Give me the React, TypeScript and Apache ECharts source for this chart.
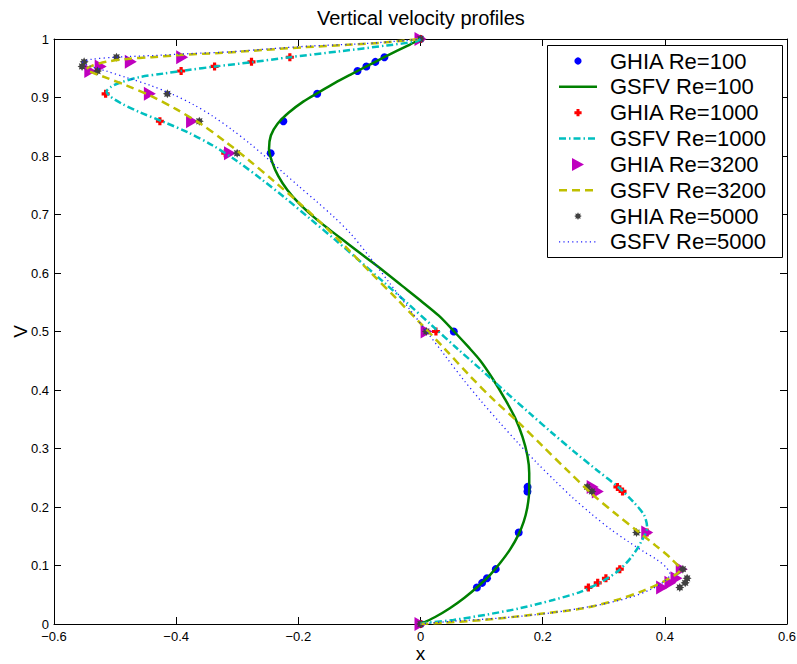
import React, { useEffect, useRef } from "react";
import * as echarts from "echarts";

// Sample positions along the vertical centreline (shared by every GHIA set)
const ghiaY = [1.0, 0.9688, 0.9609, 0.9531, 0.9453, 0.9063, 0.8594, 0.8047, 0.5, 0.2344, 0.2266, 0.1563, 0.0938, 0.0781, 0.0703, 0.0625, 0.0];

// GHIA reference velocities
const ghiaRe100 = [0.0, -0.05906, -0.07391, -0.08864, -0.10313, -0.16914, -0.22445, -0.24533, 0.05454, 0.17527, 0.17507, 0.16077, 0.12317, 0.1089, 0.10091, 0.09233, 0.0];
const ghiaRe1000 = [0.0, -0.21388, -0.27669, -0.33714, -0.39188, -0.5155, -0.42665, -0.31966, 0.02526, 0.32235, 0.33075, 0.37095, 0.32627, 0.30353, 0.29012, 0.27485, 0.0];
const ghiaRe3200 = [0.0, -0.39017, -0.47425, -0.52357, -0.54053, -0.44307, -0.37401, -0.31184, 0.00999, 0.28188, 0.2903, 0.37119, 0.42768, 0.41906, 0.40917, 0.3956, 0.0];
const ghiaRe5000 = [0.0, -0.49774, -0.55069, -0.55408, -0.52876, -0.41442, -0.36214, -0.30018, 0.00945, 0.2728, 0.28066, 0.35368, 0.42951, 0.43648, 0.43329, 0.42447, 0.0];

// GSFV profiles, [velocity, position] walked from the bottom wall to the lid
const gsfvRe100: [number, number][] = [
  [0, 0], [0.024, 0.012], [0.048, 0.027], [0.072, 0.045], [0.095, 0.065], [0.114, 0.084], [0.131, 0.105],
  [0.147, 0.128], [0.16, 0.152], [0.169, 0.175], [0.175, 0.2], [0.178, 0.23], [0.178, 0.258], [0.175, 0.288],
  [0.167, 0.32], [0.155, 0.352], [0.138, 0.385], [0.119, 0.418], [0.098, 0.45], [0.078, 0.474], [0.055, 0.5],
  [0.03, 0.527], [0, 0.553], [-0.03, 0.578], [-0.06, 0.603], [-0.09, 0.627], [-0.12, 0.651], [-0.15, 0.675],
  [-0.175, 0.696], [-0.198, 0.718], [-0.218, 0.742], [-0.233, 0.766], [-0.243, 0.79], [-0.248, 0.812],
  [-0.245, 0.835], [-0.234, 0.855], [-0.216, 0.874], [-0.192, 0.893], [-0.168, 0.908], [-0.14, 0.925],
  [-0.113, 0.94], [-0.087, 0.954], [-0.061, 0.968], [-0.038, 0.98], [-0.018, 0.99], [0, 1],
];
const gsfvRe1000: [number, number][] = [
  [0, 0], [0.01, 0.002], [0.054, 0.007], [0.108, 0.016], [0.163, 0.027], [0.217, 0.041], [0.262, 0.055],
  [0.296, 0.072], [0.324, 0.091], [0.345, 0.114], [0.361, 0.14], [0.371, 0.165], [0.366, 0.186], [0.35, 0.207],
  [0.325, 0.233], [0.29, 0.262], [0.25, 0.296], [0.215, 0.327], [0.179, 0.36], [0.14, 0.396], [0.1, 0.434],
  [0.06, 0.471], [0.02, 0.509], [-0.02, 0.547], [-0.06, 0.584], [-0.1, 0.621], [-0.14, 0.657], [-0.18, 0.692],
  [-0.22, 0.727], [-0.26, 0.76], [-0.3, 0.791], [-0.34, 0.818], [-0.38, 0.84], [-0.42, 0.858], [-0.46, 0.875],
  [-0.49, 0.89], [-0.508, 0.902], [-0.514, 0.91], [-0.507, 0.918], [-0.49, 0.926], [-0.459, 0.935],
  [-0.42, 0.941], [-0.38, 0.947], [-0.336, 0.953], [-0.279, 0.96], [-0.213, 0.969], [-0.132, 0.979],
  [-0.055, 0.989], [-0.006, 0.996], [0, 1],
];
const gsfvRe3200: [number, number][] = [
  [0, 0], [0.037, 0.002], [0.103, 0.007], [0.185, 0.016], [0.267, 0.027], [0.321, 0.041], [0.365, 0.057],
  [0.4, 0.074], [0.425, 0.093], [0.41, 0.112], [0.385, 0.134], [0.355, 0.159], [0.32, 0.188], [0.28, 0.223],
  [0.24, 0.263], [0.2, 0.304], [0.16, 0.345], [0.12, 0.383], [0.08, 0.425], [0.04, 0.47], [0, 0.514],
  [-0.04, 0.557], [-0.08, 0.599], [-0.12, 0.642], [-0.16, 0.683], [-0.2, 0.721], [-0.24, 0.757], [-0.28, 0.792],
  [-0.32, 0.825], [-0.36, 0.855], [-0.4, 0.88], [-0.44, 0.902], [-0.48, 0.92], [-0.515, 0.934], [-0.538, 0.943],
  [-0.547, 0.948], [-0.538, 0.954], [-0.515, 0.961], [-0.48, 0.966], [-0.44, 0.969], [-0.388, 0.973],
  [-0.33, 0.976], [-0.26, 0.981], [-0.19, 0.986], [-0.12, 0.99], [-0.06, 0.994], [0, 1],
];
const gsfvRe5000: [number, number][] = [
  [0, 0], [0.048, 0.0044], [0.13, 0.0102], [0.212, 0.0188], [0.294, 0.033], [0.345, 0.046], [0.376, 0.0586],
  [0.398, 0.072], [0.4085, 0.085], [0.402, 0.097], [0.387, 0.11], [0.365, 0.124], [0.34, 0.141], [0.31, 0.163],
  [0.28, 0.188], [0.25, 0.215], [0.22, 0.245], [0.19, 0.276], [0.16, 0.309], [0.13, 0.344], [0.1, 0.38],
  [0.07, 0.418], [0.04, 0.459], [0.01, 0.5], [-0.02, 0.541], [-0.05, 0.582], [-0.083, 0.627], [-0.115, 0.668],
  [-0.142, 0.696], [-0.17, 0.722], [-0.2, 0.749], [-0.225, 0.772], [-0.252, 0.797], [-0.279, 0.821],
  [-0.31, 0.846], [-0.34, 0.868], [-0.372, 0.888], [-0.405, 0.905], [-0.443, 0.921], [-0.481, 0.934],
  [-0.514, 0.945], [-0.545, 0.955], [-0.553, 0.96], [-0.54, 0.965], [-0.497, 0.969], [-0.432, 0.972],
  [-0.377, 0.975], [-0.312, 0.978], [-0.25, 0.983], [-0.18, 0.988], [-0.094, 0.992], [-0.023, 0.9976], [0, 1],
];

const seriesNames = [
  "GHIA Re=100", "GSFV Re=100",
  "GHIA Re=1000", "GSFV Re=1000",
  "GHIA Re=3200", "GSFV Re=3200",
  "GHIA Re=5000", "GSFV Re=5000",
];

const FONT = "'Liberation Sans', Arial, Helvetica, sans-serif";

const BLUE = "#0000ff";
const GREEN = "#008000";
const RED = "#ff0000";
const CYAN = "#00bfbf";
const MAGENTA = "#bf00bf";
const OLIVE = "#bfbf00";
const GRAY = "#404040";
const DOTBLUE = "#1f1fff";

const DASHDOT = [7, 3, 1.5, 3];
const DASHED = [8, 5];
const DOTTED = [1.2, 3.2];

// polygon helpers for the marker shapes
function plusPoints(cx: number, cy: number, r: number, a: number): number[][] {
  return [
    [cx - a, cy - r], [cx + a, cy - r], [cx + a, cy - a], [cx + r, cy - a], [cx + r, cy + a], [cx + a, cy + a],
    [cx + a, cy + r], [cx - a, cy + r], [cx - a, cy + a], [cx - r, cy + a], [cx - r, cy - a], [cx - a, cy - a],
  ];
}
function starPoints(cx: number, cy: number, rOut: number, rIn: number, n: number): number[][] {
  const pts: number[][] = [];
  for (let i = 0; i < 2 * n; i++) {
    const r = i % 2 === 0 ? rOut : rIn;
    const t = (Math.PI * i) / n - Math.PI / 2;
    pts.push([cx + r * Math.cos(t), cy + r * Math.sin(t)]);
  }
  return pts;
}
function toSymbolPath(pts: number[][]): string {
  return "path://M" + pts.map((p) => p[0].toFixed(3) + " " + p[1].toFixed(3)).join(" L") + " Z";
}

const PLUS_SYMBOL = toSymbolPath(plusPoints(4, 4, 4, 1.6));
const STAR_SYMBOL = toSymbolPath(starPoints(4, 4, 4, 2.4, 8));

function pairs(values: number[]): number[][] {
  return values.map((v, i) => [v, ghiaY[i]]);
}

function tickText(v: number): string {
  const r = Math.round(v * 10) / 10;
  if (r === 0) return "0";
  if (r === 1) return "1";
  return (r < 0 ? "\u2212" : "") + Math.abs(r).toFixed(1);
}

function buildLegend(): any[] {
  const x0 = 547;
  const y0 = 45;
  const w = 235;
  const h = 212;
  const rowY = 61;
  const step = 25.85;
  const iconL = 559;
  const iconR = 597;
  const iconC = 578;
  const textX = 610;

  const els: any[] = [
    {
      type: "rect",
      shape: { x: x0 + 0.5, y: y0 + 0.5, width: w, height: h },
      style: { fill: "#fff", stroke: "#000", lineWidth: 1 },
      z: 100,
    },
  ];
  const lineStyles = [
    { stroke: GREEN, lineWidth: 2.5, lineDash: null as any },
    { stroke: CYAN, lineWidth: 2.5, lineDash: DASHDOT },
    { stroke: OLIVE, lineWidth: 2.5, lineDash: DASHED },
    { stroke: DOTBLUE, lineWidth: 1.3, lineDash: DOTTED },
  ];
  seriesNames.forEach((name, i) => {
    const cy = rowY + i * step;
    const k = Math.floor(i / 2);
    if (i % 2 === 1) {
      const ls = lineStyles[k];
      els.push({
        type: "line",
        shape: { x1: iconL, y1: cy, x2: iconR, y2: cy },
        style: { stroke: ls.stroke, lineWidth: ls.lineWidth, lineDash: ls.lineDash },
        z: 101,
      });
    } else if (k === 0) {
      els.push({ type: "circle", shape: { cx: iconC, cy, r: 3.6 }, style: { fill: BLUE }, z: 101 });
    } else if (k === 1) {
      els.push({ type: "polygon", shape: { points: plusPoints(iconC, cy, 3.6, 1.5) }, style: { fill: RED }, z: 101 });
    } else if (k === 2) {
      els.push({
        type: "polygon",
        shape: { points: [[iconC - 6, cy - 6.5], [iconC + 6, cy], [iconC - 6, cy + 6.5]] },
        style: { fill: MAGENTA },
        z: 101,
      });
    } else {
      els.push({ type: "polygon", shape: { points: starPoints(iconC, cy, 3.8, 2.3, 8) }, style: { fill: GRAY }, z: 101 });
    }
    els.push({
      type: "text",
      x: textX,
      y: cy,
      style: { text: name, fill: "#000", font: `22px ${FONT}`, verticalAlign: "middle", align: "left" },
      z: 101,
    });
  });
  return els;
}

export default function App() {
  const ref = useRef<HTMLDivElement>(null);

  useEffect(() => {
    document.body.style.margin = "0";
    if (!ref.current) return;
    const chart = echarts.init(ref.current, undefined, { renderer: "svg" });

    const axisCommon = {
      type: "value" as const,
      axisLine: { onZero: false, lineStyle: { color: "#000", width: 1 } },
      axisTick: { inside: true, length: 7, lineStyle: { color: "#000", width: 1 } },
      splitLine: { show: false },
    };

    const scatter = (name: string, values: number[], symbol: string, size: any, color: string, extra: any = {}) => ({
      name,
      type: "scatter",
      data: pairs(values),
      symbol,
      symbolSize: size,
      itemStyle: { color, opacity: 1 },
      clip: false,
      ...extra,
    });
    const curve = (name: string, data: [number, number][], color: string, width: number, dash: any) => ({
      name,
      type: "line",
      data,
      showSymbol: false,
      symbol: "none",
      smooth: 0.3,
      lineStyle: { color, width, type: dash, cap: "butt" },
    });

    chart.setOption({
      animation: false,
      backgroundColor: "#ffffff",
      textStyle: { fontFamily: FONT },
      title: {
        text: "Vertical velocity profiles",
        left: 317,
        top: 8,
        padding: 0,
        textStyle: { fontSize: 20, fontWeight: "normal", color: "#000", fontFamily: FONT },
      },
      grid: { left: 54, right: 10, top: 39, bottom: 40, containLabel: false, outerBoundsMode: "none" },
      xAxis: [
        {
          ...axisCommon,
          position: "bottom",
          min: -0.6,
          max: 0.6,
          interval: 0.2,
          name: "x",
          nameLocation: "middle",
          nameGap: 21,
          nameMoveOverlap: false,
          nameTextStyle: { fontSize: 19, lineHeight: 17, color: "#000", fontFamily: FONT },
          axisLabel: { fontSize: 13, lineHeight: 12, color: "#000", margin: 6, formatter: tickText, fontFamily: FONT },
        },
        {
          ...axisCommon,
          position: "top",
          min: -0.6,
          max: 0.6,
          interval: 0.2,
          axisLabel: { show: false },
        },
      ],
      yAxis: [
        {
          ...axisCommon,
          position: "left",
          min: 0,
          max: 1,
          interval: 0.1,
          name: "V",
          nameLocation: "middle",
          nameGap: 24,
          nameMoveOverlap: false,
          nameTextStyle: { fontSize: 19, color: "#000", fontFamily: FONT },
          axisLabel: { fontSize: 13, lineHeight: 10, color: "#000", margin: 5, formatter: tickText, fontFamily: FONT },
        },
        {
          ...axisCommon,
          position: "right",
          min: 0,
          max: 1,
          interval: 0.1,
          axisLabel: { show: false },
        },
      ],
      series: [
        scatter(seriesNames[0], ghiaRe100, "circle", 8, BLUE),
        curve(seriesNames[1], gsfvRe100, GREEN, 2.5, "solid"),
        scatter(seriesNames[2], ghiaRe1000, PLUS_SYMBOL, 8, RED),
        curve(seriesNames[3], gsfvRe1000, CYAN, 2.5, DASHDOT),
        scatter(seriesNames[4], ghiaRe3200, "triangle", [14, 12], MAGENTA, { symbolRotate: -90 }),
        curve(seriesNames[5], gsfvRe3200, OLIVE, 2.5, DASHED),
        scatter(seriesNames[6], ghiaRe5000, STAR_SYMBOL, 9, GRAY),
        curve(seriesNames[7], gsfvRe5000, DOTBLUE, 1.3, DOTTED),
      ],
      graphic: buildLegend(),
    });

    return () => chart.dispose();
  }, []);

  return <div ref={ref} style={{ width: 797, height: 664 }} />;
}
